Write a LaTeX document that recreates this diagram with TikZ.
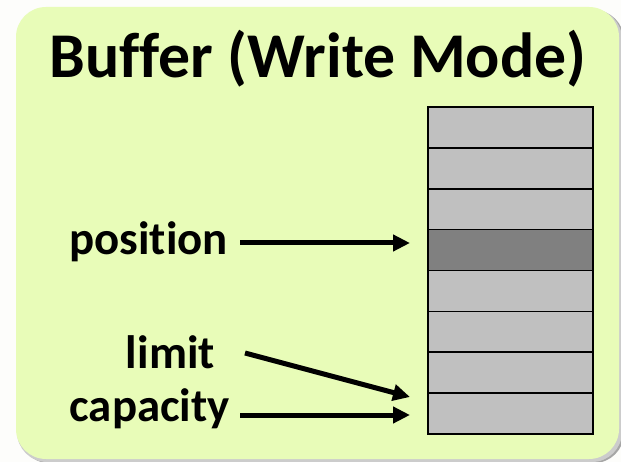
\documentclass[tikz,border=0pt]{standalone}
\usepackage{fontspec}
\setmainfont[Ligatures=NoCommon]{Carlito}
\usetikzlibrary{arrows.meta}
\definecolor{panel}{RGB}{232,252,184}
\definecolor{bgc}{RGB}{253,253,251}
\definecolor{cellc}{RGB}{192,192,192}
\definecolor{celld}{RGB}{128,128,128}
\tikzset{
  cellbox/.style={draw=black, line width=1.6bp, minimum width=165bp, minimum height=40.8bp, inner sep=0pt, anchor=north west},
  lbl/.style={font=\fontsize{47}{52}\selectfont\bfseries, inner sep=0pt, anchor=base east},
  arr/.style={line width=5bp, -{Triangle[length=17bp,width=16bp]}}
}
\begin{document}
\begin{tikzpicture}[x=1bp,y=-1bp]
\useasboundingbox (0,0) rectangle (621,462);
\fill[bgc] (0,0) rectangle (621,462);
% shadow
\fill[black!35, rounded corners=30bp] (19,10) rectangle (624,463);
\fill[black!20, rounded corners=30bp] (17,9) rectangle (622,462);
% panel
\fill[panel, rounded corners=30bp] (16,7) rectangle (619,459);
% title
\node[font=\fontsize{64}{70}\selectfont\bfseries, inner sep=0pt, anchor=base] (title) at (318,78) {Buffer (Write Mode)};
% cells
\foreach \i in {1,...,8}{
  \pgfmathsetmacro\yy{106.5+(\i-1)*40.8}
  \ifnum\i=4
    \node[cellbox, fill=celld] (c\i) at (427,\yy) {};
  \else
    \node[cellbox, fill=cellc] (c\i) at (427,\yy) {};
  \fi
}
% labels
\node[lbl] (pos) at (228,255) {position};
\node[lbl] (lim) at (215,368) {limit};
\node[lbl] (cap) at (230,421) {capacity};
% arrow tips
\coordinate (tpos) at (410,243);
\coordinate (tlim) at (410,397);
\coordinate (tcap) at (410,415);
\draw[arr] ([shift={(12,-12)}]pos.base east) -- (tpos);
\draw[arr] ([shift={(30,-15)}]lim.base east) -- (tlim);
\draw[arr] ([shift={(10,-6)}]cap.base east) -- (tcap);
\end{tikzpicture}
\end{document}
